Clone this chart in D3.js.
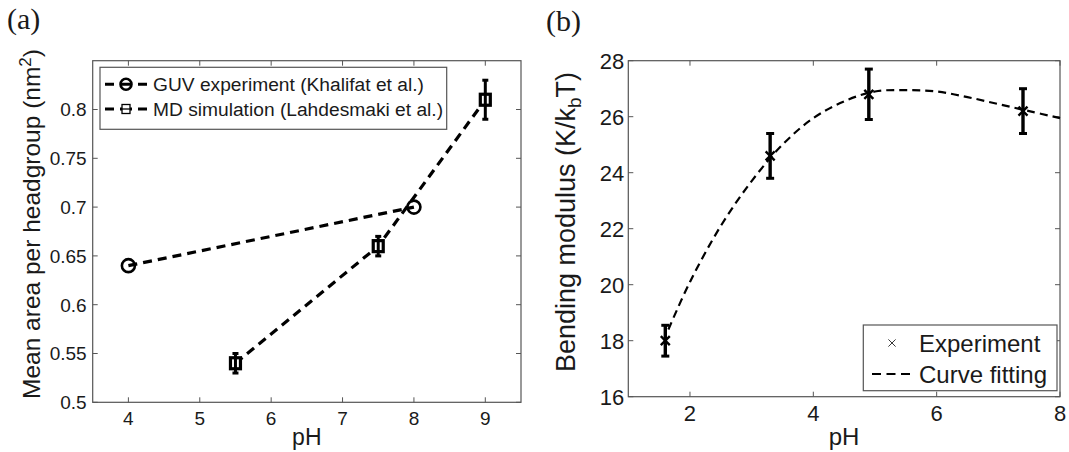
<!DOCTYPE html>
<html>
<head>
<meta charset="utf-8">
<script src="https://cdn.jsdelivr.net/npm/d3@7/dist/d3.min.js"></script>
<style>
  body { margin: 0; background: #fff; }
  svg { display: block; font-family: "Liberation Sans", Arial, sans-serif; }
</style>
</head>
<body>
<svg id="chart" width="1069" height="452"></svg>
<script>
// ---- panel (a) data ----
const guvPH = [4, 8];
const guvArea = [0.64, 0.70];
const mdPH = [5.5, 7.5, 9];
const mdArea = [0.54, 0.66, 0.81];
const mdErr = [0.01, 0.01, 0.02];
const aXTicks = [4, 5, 6, 7, 8, 9];
const aYTicks = [0.5, 0.55, 0.6, 0.65, 0.7, 0.75, 0.8];
const aLegend = ['GUV experiment (Khalifat et al.)', 'MD simulation (Lahdesmaki et al.)'];

// ---- panel (b) data ----
const expPH = [1.6, 3.3, 4.9, 7.4];
const expK = [18.0, 24.6, 26.8, 26.2];
const expErr = [0.55, 0.8, 0.9, 0.8];
const fitPH = [1.65, 2, 2.5, 3, 3.5, 4, 4.5, 5, 5.5, 6, 6.5, 7, 7.5, 8];
const fitK = [18.4, 20.1, 22.1, 23.7, 25.0, 25.95, 26.55, 26.9, 26.95, 26.9, 26.7, 26.45, 26.2, 25.95];
const bXTicks = [2, 4, 6, 8];
const bYTicks = [16, 18, 20, 22, 24, 26, 28];
const bLegend = ['Experiment', 'Curve fitting'];

const svg = d3.select('#chart');
const axisCol = '#555';
const textCol = '#1a1a1a';

function frame(g, x, y, xt, yt, fmt, tickFont, labelDx, labelDy) {
	const [x0, x1] = x.range();
	const [y0, y1] = y.range();
	g.append('rect')
		.attr('x', x0).attr('y', y1)
		.attr('width', x1 - x0).attr('height', y0 - y1)
		.attr('fill', 'none').attr('stroke', axisCol).attr('stroke-width', 1.2);
	const tl = 5;
	xt.forEach(t => {
		g.append('line').attr('x1', x(t)).attr('x2', x(t)).attr('y1', y0).attr('y2', y0 - tl)
			.attr('stroke', axisCol);
		g.append('line').attr('x1', x(t)).attr('x2', x(t)).attr('y1', y1).attr('y2', y1 + tl)
			.attr('stroke', axisCol);
		g.append('text').attr('x', x(t)).attr('y', y0 + labelDy)
			.attr('text-anchor', 'middle').attr('font-size', tickFont).attr('fill', textCol)
			.text(t);
	});
	yt.forEach(t => {
		g.append('line').attr('x1', x0).attr('x2', x0 + tl).attr('y1', y(t)).attr('y2', y(t))
			.attr('stroke', axisCol);
		g.append('line').attr('x1', x1).attr('x2', x1 - tl).attr('y1', y(t)).attr('y2', y(t))
			.attr('stroke', axisCol);
		g.append('text').attr('x', x0 - labelDx).attr('y', y(t))
			.attr('dy', '0.36em')
			.attr('text-anchor', 'end').attr('font-size', tickFont).attr('fill', textCol)
			.text(fmt(t));
	});
}

// ================= panel (a) =================
const ga = svg.append('g');
const xa = d3.scaleLinear().domain([3.5, 9.5]).range([92.7, 521]);
const ya = d3.scaleLinear().domain([0.5, 0.85]).range([402.3, 60.7]);

frame(ga, xa, ya, aXTicks, aYTicks, d => String(+d.toFixed(2)), 19, 6, 23);

const lineA = d3.line().x(d => xa(d[0])).y(d => ya(d[1]));

ga.append('path')
	.datum(guvPH.map((p, i) => [p, guvArea[i]]))
	.attr('d', lineA)
	.attr('fill', 'none').attr('stroke', '#000').attr('stroke-width', 3.2)
	.attr('stroke-dasharray', '9,6');

ga.append('path')
	.datum(mdPH.map((p, i) => [p, mdArea[i]]))
	.attr('d', lineA)
	.attr('fill', 'none').attr('stroke', '#000').attr('stroke-width', 3.2)
	.attr('stroke-dasharray', '9,6');

ga.selectAll('.guv').data(guvPH).enter().append('circle')
	.attr('cx', d => xa(d)).attr('cy', (d, i) => ya(guvArea[i]))
	.attr('r', 6.5).attr('fill', 'none').attr('stroke', '#000').attr('stroke-width', 2.6);

mdPH.forEach((p, i) => {
	const cx = xa(p), cy = ya(mdArea[i]);
	ga.append('rect')
		.attr('x', cx - 5).attr('y', cy - 5.5).attr('width', 10).attr('height', 11)
		.attr('fill', '#fff').attr('stroke', '#000').attr('stroke-width', 3.2);
	const top = ya(mdArea[i] + mdErr[i]), bot = ya(mdArea[i] - mdErr[i]);
	ga.append('line').attr('x1', cx).attr('x2', cx).attr('y1', top).attr('y2', bot)
		.attr('stroke', '#000').attr('stroke-width', 3);
	[top, bot].forEach(yy => ga.append('line')
		.attr('x1', cx - 3).attr('x2', cx + 3).attr('y1', yy).attr('y2', yy)
		.attr('stroke', '#000').attr('stroke-width', 3));
});

// legend (a)
ga.append('rect').attr('x', 100).attr('y', 67.3).attr('width', 346.7).attr('height', 62)
	.attr('fill', '#fff').attr('stroke', axisCol).attr('stroke-width', 1.2);
const legRowsA = [84.3, 109];
legRowsA.forEach((yy, i) => {
	ga.append('line').attr('x1', 105).attr('x2', 147).attr('y1', yy).attr('y2', yy)
		.attr('stroke', '#000').attr('stroke-width', 3)
		.attr('stroke-dasharray', '9,6,12,6,9');
	if (i === 0) {
		ga.append('circle').attr('cx', 126).attr('cy', yy).attr('r', 5.5)
			.attr('fill', 'none').attr('stroke', '#000').attr('stroke-width', 2.6);
	} else {
		ga.append('rect').attr('x', 122).attr('y', yy - 4.5).attr('width', 8).attr('height', 9)
			.attr('fill', '#fff').attr('stroke', '#000').attr('stroke-width', 1.3);
		ga.append('line').attr('x1', 122).attr('x2', 130).attr('y1', yy).attr('y2', yy)
			.attr('stroke', '#000').attr('stroke-width', 1.3);
	}
	ga.append('text').attr('x', 153).attr('y', yy).attr('dy', '0.36em')
		.attr('font-size', 19.2).attr('fill', textCol).text(aLegend[i]);
});

// titles (a)
ga.append('text').attr('x', 306.8).attr('y', 445)
	.attr('text-anchor', 'middle').attr('font-size', 23).attr('fill', textCol).text('pH');
const ytA = ga.append('text')
	.attr('transform', 'translate(40,224) rotate(-90)')
	.attr('text-anchor', 'middle').attr('font-size', 24.5).attr('fill', textCol);
ytA.append('tspan').text('Mean area per headgroup (nm');
ytA.append('tspan').attr('font-size', 17).attr('baseline-shift', '55%').text('2');
ytA.append('tspan').text(')');

svg.append('text').attr('x', 7).attr('y', 29)
	.attr('font-family', '"Liberation Serif", "Times New Roman", serif')
	.attr('font-size', 30).attr('fill', textCol).text('(a)');

// ================= panel (b) =================
const gb = svg.append('g');
const xb = d3.scaleLinear().domain([1, 8]).range([628.3, 1060]);
const yb = d3.scaleLinear().domain([16, 28]).range([396.7, 60.7]);

frame(gb, xb, yb, bXTicks, bYTicks, d => d, 22, 4, 24);

gb.append('path')
	.datum(fitPH.map((p, i) => [p, fitK[i]]))
	.attr('d', d3.line().x(d => xb(d[0])).y(d => yb(d[1])).curve(d3.curveCatmullRom))
	.attr('fill', 'none').attr('stroke', '#000').attr('stroke-width', 2.2)
	.attr('stroke-dasharray', '8,5');

expPH.forEach((p, i) => {
	const cx = xb(p), cy = yb(expK[i]);
	const top = yb(expK[i] + expErr[i]), bot = yb(expK[i] - expErr[i]);
	gb.append('line').attr('x1', cx).attr('x2', cx).attr('y1', top).attr('y2', bot)
		.attr('stroke', '#000').attr('stroke-width', 3.4);
	[top, bot].forEach(yy => gb.append('line')
		.attr('x1', cx - 4).attr('x2', cx + 4).attr('y1', yy).attr('y2', yy)
		.attr('stroke', '#000').attr('stroke-width', 3));
	const s = 4.5;
	gb.append('path')
		.attr('d', `M${cx - s},${cy - s}L${cx + s},${cy + s}M${cx - s},${cy + s}L${cx + s},${cy - s}`)
		.attr('stroke', '#000').attr('stroke-width', 2.4);
});

// legend (b)
gb.append('rect').attr('x', 863.3).attr('y', 325).attr('width', 193.7).attr('height', 65.7)
	.attr('fill', '#fff').attr('stroke', axisCol).attr('stroke-width', 1.2);
const legRowsB = [343, 374];
{
	const cx = 892, cy = legRowsB[0], s = 3.6;
	gb.append('path')
		.attr('d', `M${cx - s},${cy - s}L${cx + s},${cy + s}M${cx - s},${cy + s}L${cx + s},${cy - s}`)
		.attr('stroke', '#222').attr('stroke-width', 0.9);
	gb.append('line').attr('x1', 872).attr('x2', 914).attr('y1', legRowsB[1]).attr('y2', legRowsB[1])
		.attr('stroke', '#000').attr('stroke-width', 2.2).attr('stroke-dasharray', '9,5.5');
}
legRowsB.forEach((yy, i) => {
	gb.append('text').attr('x', 919).attr('y', yy).attr('dy', '0.36em')
		.attr('font-size', 24).attr('fill', textCol).text(bLegend[i]);
});

// titles (b)
gb.append('text').attr('x', 844).attr('y', 445)
	.attr('text-anchor', 'middle').attr('font-size', 24).attr('fill', textCol).text('pH');
const ytB = gb.append('text')
	.attr('transform', 'translate(575,222) rotate(-90)')
	.attr('text-anchor', 'middle').attr('font-size', 27).attr('fill', textCol);
ytB.append('tspan').text('Bending modulus (K/k');
ytB.append('tspan').attr('font-size', 19).attr('baseline-shift', '-30%').text('b');
ytB.append('tspan').text('T)');

svg.append('text').attr('x', 546).attr('y', 31)
	.attr('font-family', '"Liberation Serif", "Times New Roman", serif')
	.attr('font-size', 30).attr('fill', textCol).text('(b)');
</script>
</body>
</html>
